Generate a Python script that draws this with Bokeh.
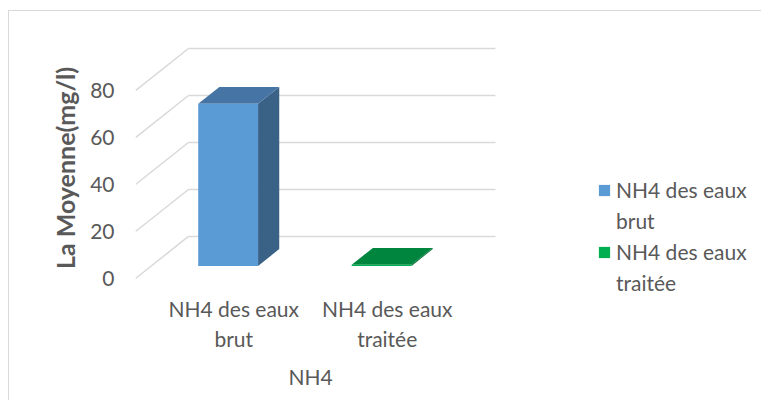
from bokeh.plotting import figure
from bokeh.models import Range1d, FixedTicker, Legend, LegendItem, Title
from bokeh.embed import file_html
from bokeh.resources import INLINE

# ---- data ----
categories = ["NH4 des eaux\nbrut", "NH4 des eaux\ntraitée"]
values = [69, 0.5]
y_ticks = [0, 20, 40, 60, 80]
y_title = "La Moyenne(mg/l)"
x_title = "NH4"

front_colors = ["#5b9bd5", "#00b050"]
top_colors = ["#4675a5", "#00853e"]
side_colors = ["#3a6286", "#006b32"]

# ---- 3D projection constants ----
depth_dx = 0.345     # x units for full depth
depth_dy = 17.9      # y units for full depth
bar_front = 0.3      # depth fraction of bar front
bar_depth = 0.4      # depth fraction of bar thickness
bar_width = 0.39
label_shift = 0.14

FONT = "Lato"
TXT = "#595959"
GRID = "#d9d9d9"
FS = "21px"

p = figure(width=753, height=390, output_backend="svg", toolbar_location=None,
           x_range=Range1d(0, 4.085), y_range=Range1d(-7.23, 101.3),
           min_border_left=126, min_border_right=0, min_border_top=29, min_border_bottom=106)
p.styles = {"border-top": "1px solid #d9d9d9", "border-left": "1px solid #d9d9d9",
            "margin-top": "10px", "margin-left": "8px"}
p.outline_line_color = None
p.xgrid.visible = False
p.ygrid.visible = False
p.background_fill_color = "white"
p.border_fill_color = "white"

# walls gridlines
for t in y_ticks:
    p.line([0, depth_dx], [t, t + depth_dy], line_color=GRID, line_width=1.5)
    p.line([depth_dx, len(categories) + depth_dx], [t + depth_dy, t + depth_dy], line_color=GRID, line_width=1.5)

renderers = []
for i, v in enumerate(values):
    cx = i + 0.5
    x0 = cx - bar_width / 2 + bar_front * depth_dx
    x1 = cx + bar_width / 2 + bar_front * depth_dx
    yb = bar_front * depth_dy
    ddx = bar_depth * depth_dx
    ddy = bar_depth * depth_dy
    p.patch([x1, x1 + ddx, x1 + ddx, x1], [yb, yb + ddy, yb + v + ddy, yb + v],
            fill_color=side_colors[i], line_color=None)
    p.patch([x0, x1, x1 + ddx, x0 + ddx], [yb + v, yb + v, yb + v + ddy, yb + v + ddy],
            fill_color=top_colors[i], line_color=None)
    r = p.patch([x0, x1, x1, x0], [yb, yb, yb + v, yb + v],
                fill_color=front_colors[i], line_color=None)
    renderers.append(r)

# y axis
p.yaxis.ticker = FixedTicker(ticks=y_ticks)
p.yaxis.axis_line_color = None
p.yaxis.major_tick_line_color = None
p.yaxis.minor_tick_line_color = None
p.yaxis.major_tick_out = 0
p.yaxis.major_label_standoff = 21
p.yaxis.major_label_text_font = FONT
p.yaxis.major_label_text_font_size = FS
p.yaxis.major_label_text_color = TXT
p.yaxis.axis_label = y_title
p.yaxis.axis_label_text_font = FONT
p.yaxis.axis_label_text_font_size = "25px"
p.yaxis.axis_label_text_font_style = "bold"
p.yaxis.axis_label_text_color = TXT
p.yaxis.axis_label_standoff = 7

# x axis
xt = [i + 0.5 + label_shift for i in range(len(categories))]
p.xaxis.ticker = FixedTicker(ticks=xt)
p.xaxis.major_label_overrides = {xt[i]: c for i, c in enumerate(categories)}
p.xaxis.axis_line_color = None
p.xaxis.major_tick_line_color = None
p.xaxis.minor_tick_line_color = None
p.xaxis.major_tick_out = 0
p.xaxis.major_label_standoff = 0
p.xaxis.major_label_text_font = FONT
p.xaxis.major_label_text_font_size = FS
p.xaxis.major_label_text_color = TXT

p.add_layout(Title(text=x_title, align="left", offset=153, standoff=17,
                   text_font=FONT, text_font_size=FS, text_font_style="normal",
                   text_color=TXT), "below")

# legend: each category label split into rows; glyph on first row only
items = []
for i, c in enumerate(categories):
    lines = c.split("\n")
    items.append(LegendItem(label=lines[0], renderers=[renderers[i]]))
    for extra in lines[1:]:
        items.append(LegendItem(label=extra, renderers=[]))

legend = Legend(items=items, location=(462, 0), padding=0, margin=0, spacing=6,
                glyph_width=14, glyph_height=14, label_standoff=5, label_height=22,
                label_text_font=FONT, label_text_font_size=FS, label_text_color=TXT,
                border_line_color=None, background_fill_alpha=0)
p.add_layout(legend, "center")

open("out.html", "w").write(file_html(p, INLINE))
